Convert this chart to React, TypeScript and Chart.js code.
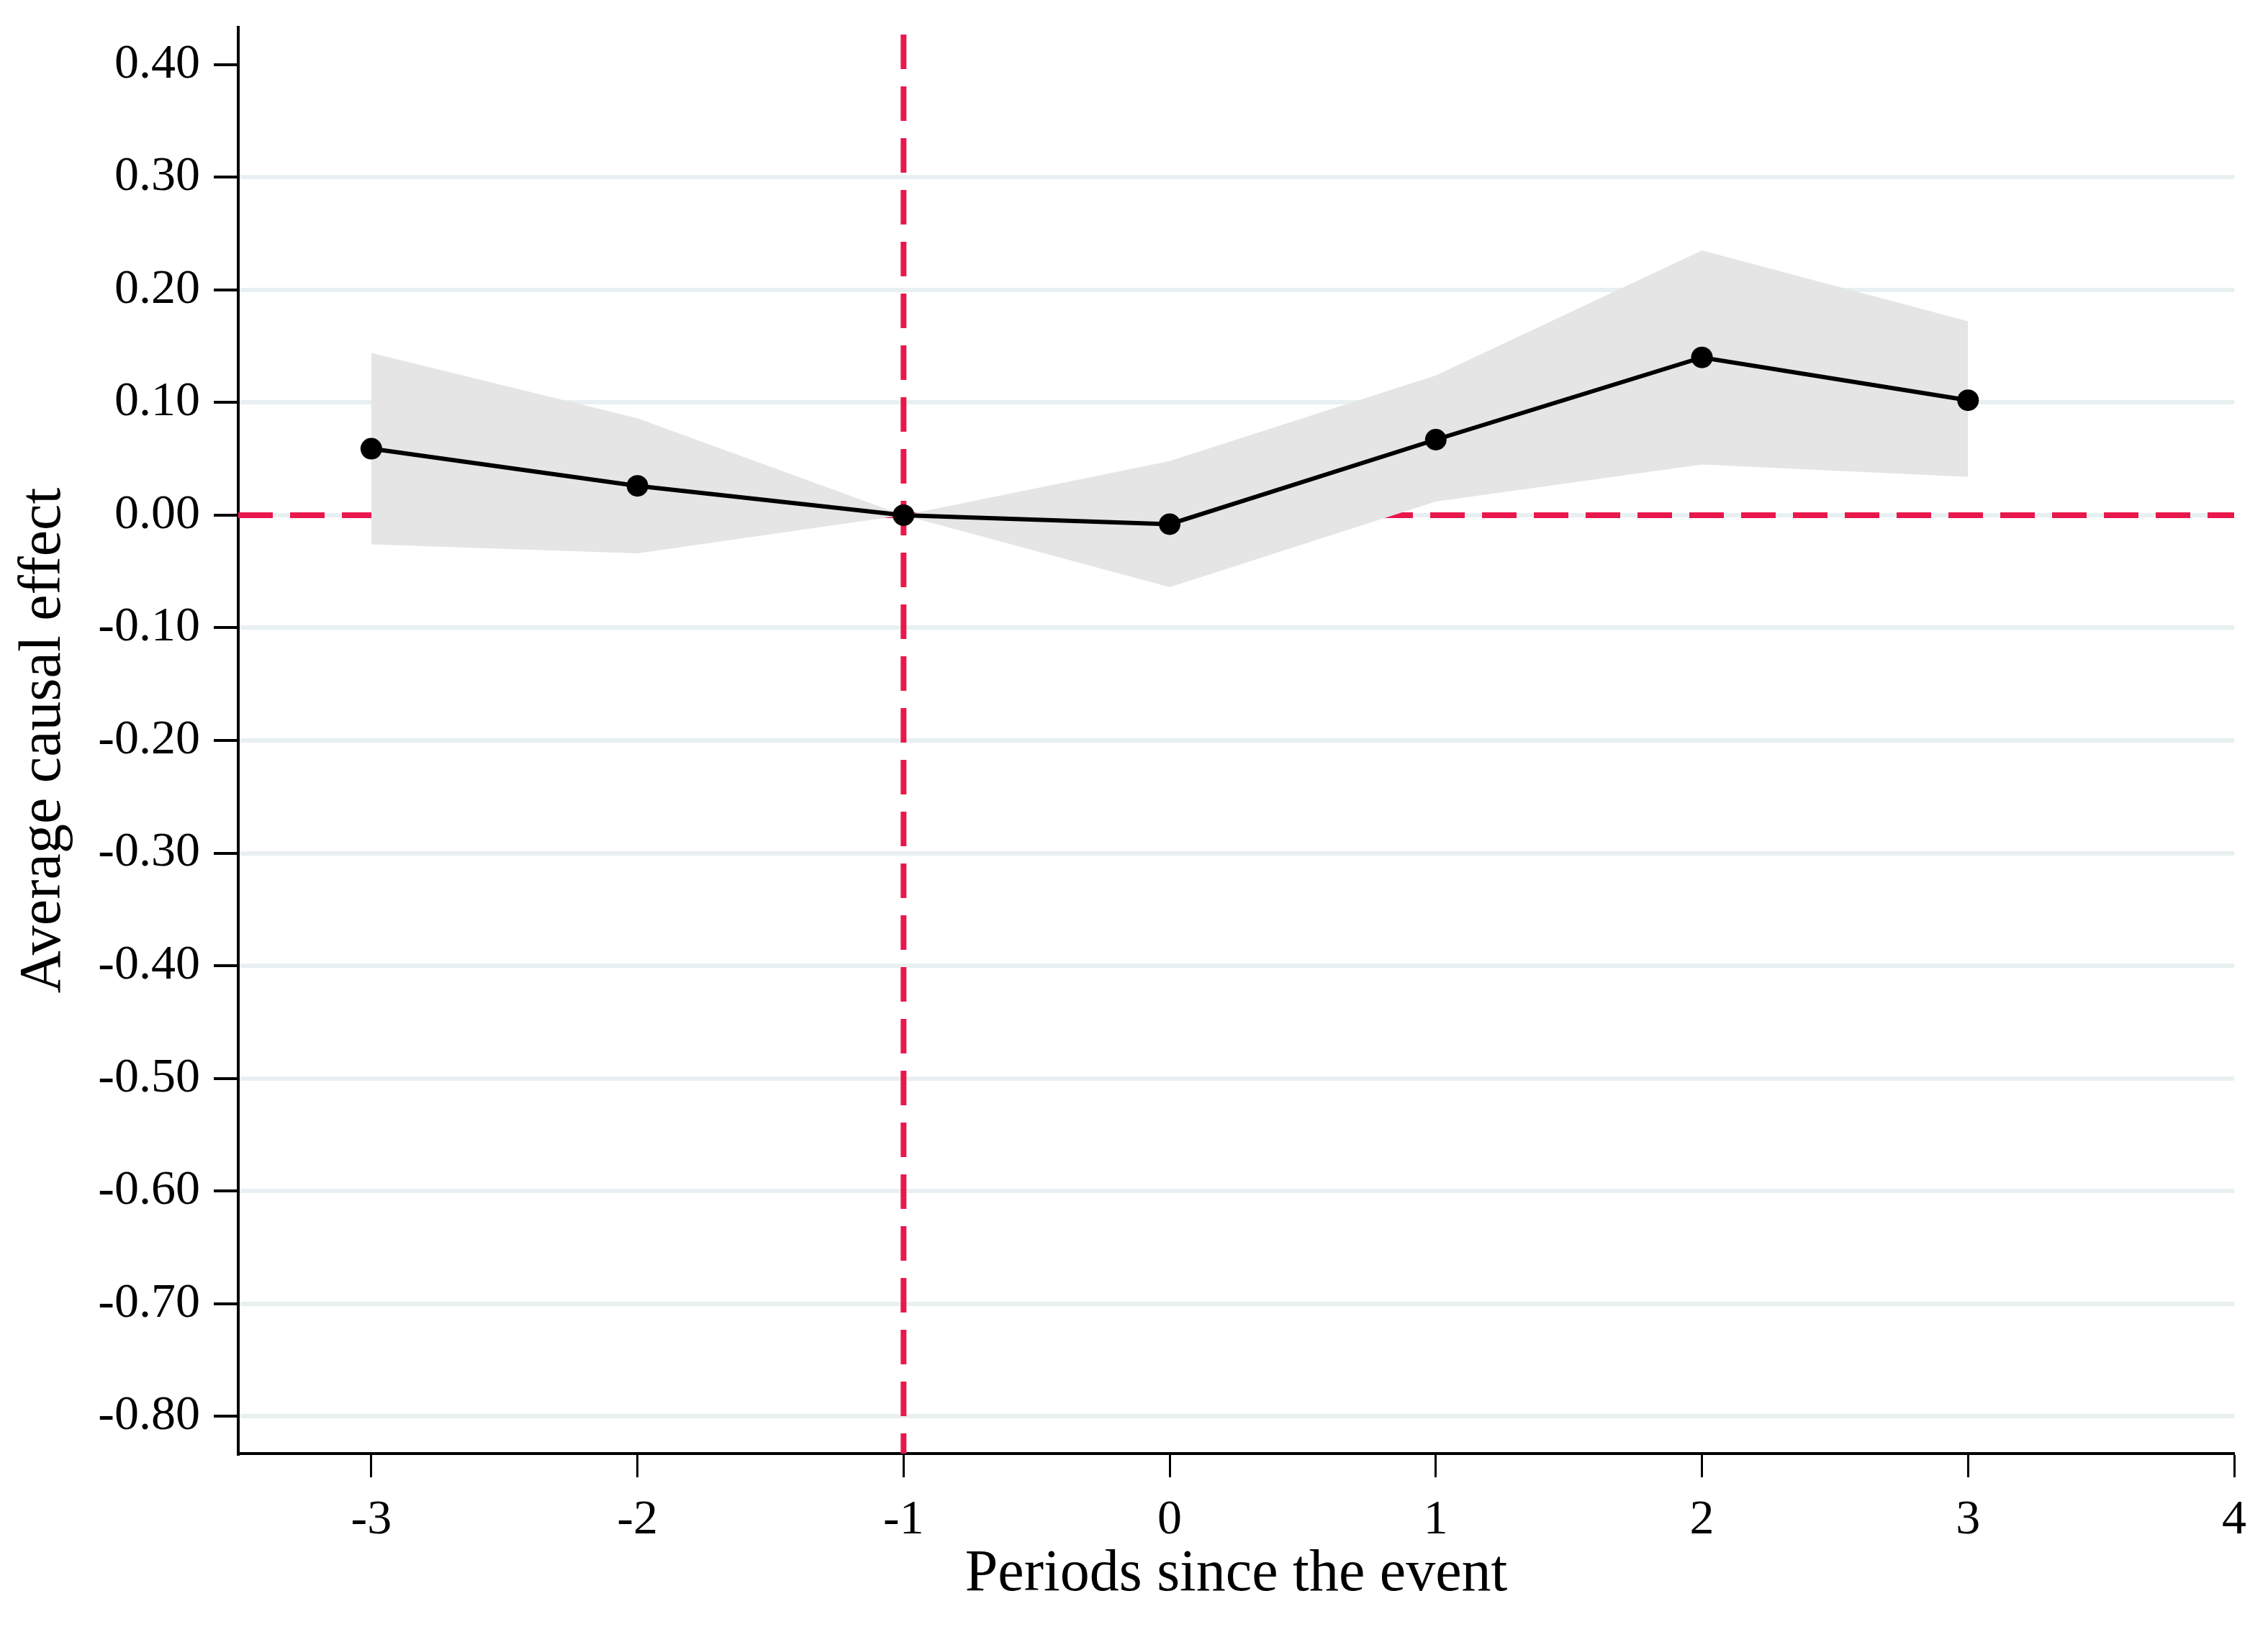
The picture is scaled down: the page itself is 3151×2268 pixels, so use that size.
import React, { useEffect, useRef } from "react";
import { Chart, registerables } from "chart.js";

Chart.register(...registerables);

const periods = [-3, -2, -1, 0, 1, 2, 3];
const estimates = [0.059, 0.026, 0.0, -0.008, 0.067, 0.14, 0.102];
const upperCI = [0.144, 0.086, 0.0, 0.048, 0.124, 0.235, 0.172];
const lowerCI = [-0.026, -0.034, 0.0, -0.064, 0.012, 0.045, 0.034];

const xTicks = [-3, -2, -1, 0, 1, 2, 3, 4];
const yTicks = [0.4, 0.3, 0.2, 0.1, 0.0, -0.1, -0.2, -0.3, -0.4, -0.5, -0.6, -0.7, -0.8];
const xRange = [-3.5, 4];
const yRange = [-0.833, 0.433];
const refX = -1;
const refY = 0;

const xTitle = "Periods since the event";
const yTitle = "Average causal effect";

const RED = "#e8184d";
const FONT = "'Liberation Serif', 'Times New Roman', serif";

const refLines = {
  id: "refLines",
  beforeDatasetsDraw(chart: any) {
    const { ctx, chartArea, scales } = chart;
    const x = scales.x.getPixelForValue(refX);
    const y = scales.y.getPixelForValue(refY);
    ctx.save();
    ctx.strokeStyle = RED;
    ctx.lineWidth = 8;
    ctx.setLineDash([48, 24]);
    ctx.lineDashOffset = 0;
    ctx.beginPath();
    ctx.moveTo(chartArea.left, y);
    ctx.lineTo(chartArea.right, y);
    ctx.stroke();
    ctx.lineDashOffset = 62;
    ctx.beginPath();
    ctx.moveTo(x, chartArea.top);
    ctx.lineTo(x, chartArea.bottom);
    ctx.stroke();
    ctx.restore();
  },
};

export default function App() {
  const canvasRef = useRef<HTMLCanvasElement | null>(null);

  useEffect(() => {
    if (!canvasRef.current) return;
    Chart.defaults.font.family = FONT;
    Chart.defaults.color = "#000";
    const toPts = (vals: number[]) => periods.map((p, i) => ({ x: p, y: vals[i] }));

    const chart = new Chart(canvasRef.current, {
      type: "line",
      data: {
        datasets: [
          {
            label: "est",
            data: toPts(estimates),
            borderColor: "#000",
            backgroundColor: "#000",
            borderWidth: 6,
            pointRadius: 15,
            pointBackgroundColor: "#000",
            pointBorderWidth: 0,
            tension: 0,
            fill: false,
            order: 0,
          },
          {
            label: "upper",
            data: toPts(upperCI),
            borderWidth: 0,
            borderColor: "rgba(0,0,0,0)",
            pointRadius: 0,
            backgroundColor: "#e5e5e5",
            fill: "+1",
            tension: 0,
            order: 1,
          },
          {
            label: "lower",
            data: toPts(lowerCI),
            borderWidth: 0,
            borderColor: "rgba(0,0,0,0)",
            pointRadius: 0,
            backgroundColor: "#e5e5e5",
            fill: false,
            tension: 0,
            order: 2,
          },
        ],
      },
      options: {
        animation: false,
        responsive: true,
        maintainAspectRatio: false,
        devicePixelRatio: 1,
        layout: { padding: { left: 0, top: 38, right: 47, bottom: 0 } },
        plugins: {
          legend: { display: false },
          tooltip: { enabled: false },
        },
        scales: {
          x: {
            type: "linear",
            min: xRange[0],
            max: xRange[1],
            afterBuildTicks: (scale: any) => {
              scale.ticks = xTicks.map((v) => ({ value: v }));
            },
            afterFit: (scale: any) => {
              scale.height = 248;
              scale.paddingLeft = 0;
              scale.paddingRight = 0;
            },
            grid: {
              drawOnChartArea: false,
              drawTicks: true,
              tickLength: 33,
              tickColor: "#000",
              tickWidth: 3,
            },
            border: { display: true, color: "#000", width: 4 },
            ticks: {
              font: { size: 68, family: FONT },
              color: "#000",
              padding: 19,
              maxRotation: 0,
              callback: (v: any) => String(v),
            },
            title: {
              display: true,
              text: xTitle,
              font: { size: 82, family: FONT },
              color: "#000",
              padding: { top: 0, bottom: 30 },
            },
          },
          y: {
            type: "linear",
            min: yRange[0],
            max: yRange[1],
            afterBuildTicks: (scale: any) => {
              scale.ticks = yTicks.map((v) => ({ value: v }));
            },
            afterFit: (scale: any) => {
              scale.width = 331;
              scale.paddingTop = 0;
              scale.paddingBottom = 0;
            },
            grid: {
              drawOnChartArea: true,
              color: (ctx: any) =>
                ctx.tick && Math.abs(ctx.tick.value - 0.4) < 1e-9 ? "rgba(0,0,0,0)" : "#e8f0f1",
              lineWidth: 6,
              drawTicks: true,
              tickLength: 34,
              tickColor: "#000",
              tickWidth: 4,
            },
            border: { display: true, color: "#000", width: 4 },
            ticks: {
              font: { size: 68, family: FONT },
              color: "#000",
              padding: 19,
              callback: (v: any) => Number(v).toFixed(2),
            },
            title: {
              display: true,
              text: yTitle,
              font: { size: 82, family: FONT },
              color: "#000",
              padding: { top: 12, bottom: 0 },
            },
          },
        },
      },
      plugins: [refLines],
    } as any);

    return () => chart.destroy();
  }, []);

  return (
    <div style={{ position: "fixed", left: 0, top: 0, width: 3151, height: 2268, background: "#fff" }}>
      <canvas ref={canvasRef} />
    </div>
  );
}
